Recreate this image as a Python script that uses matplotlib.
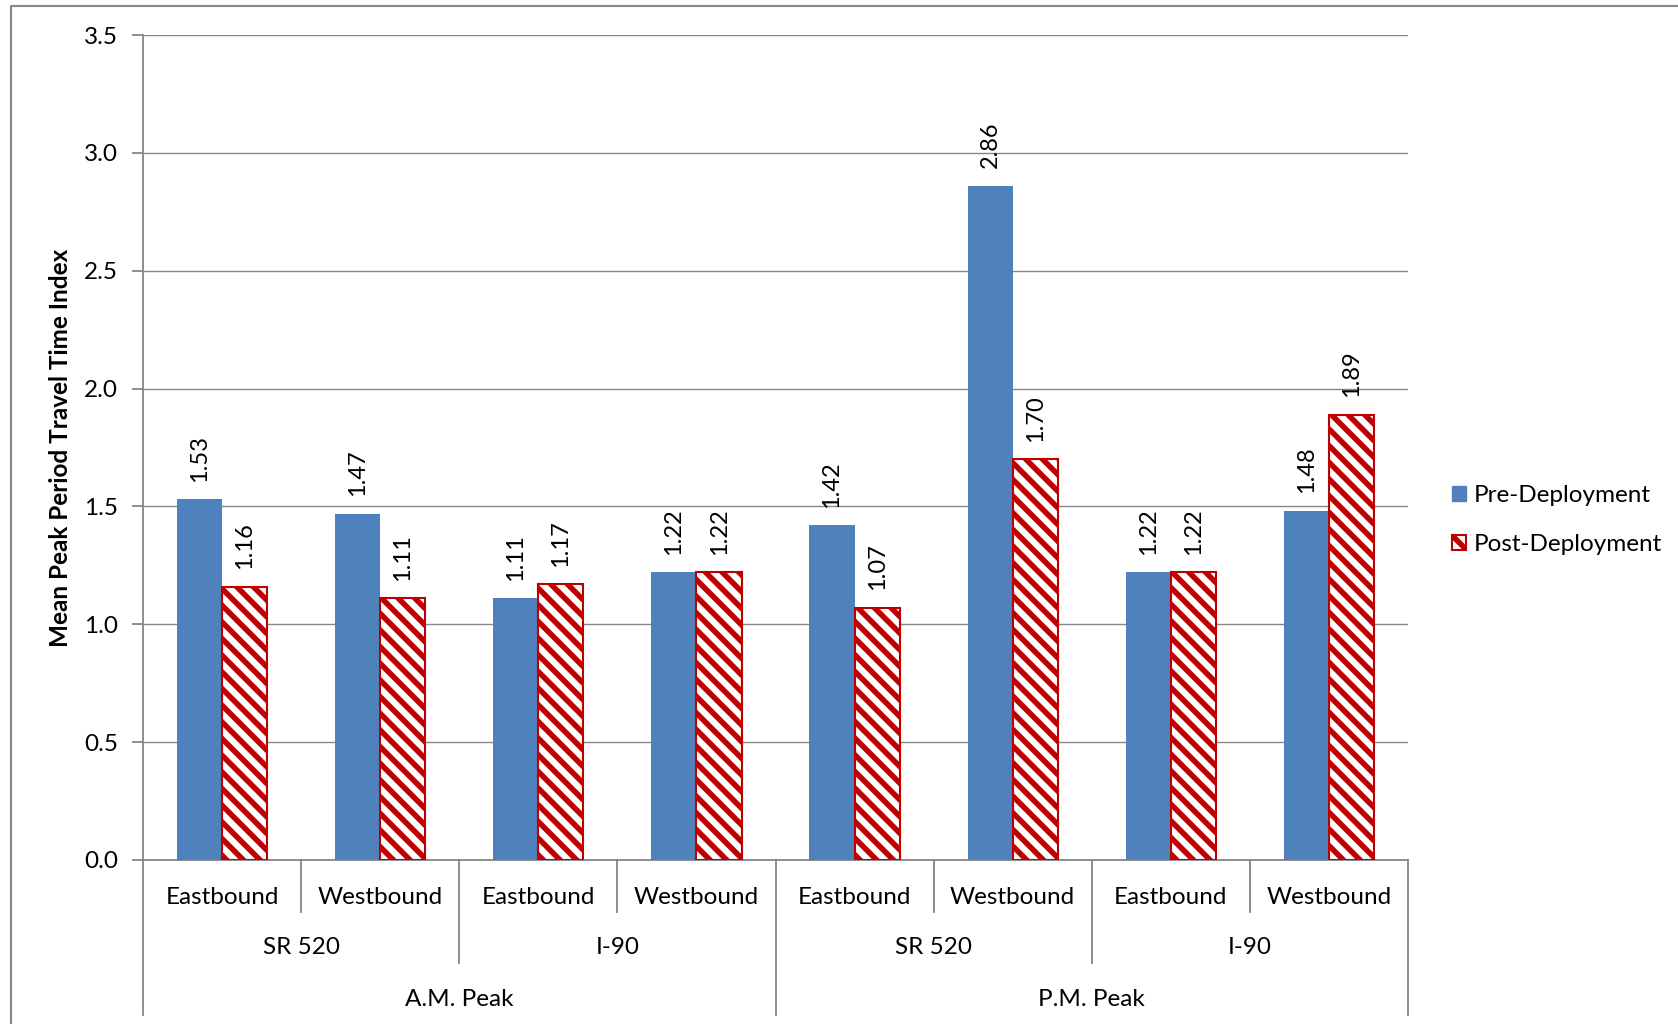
import numpy as np
import matplotlib
matplotlib.use("Agg")
import matplotlib.pyplot as plt
from matplotlib.lines import Line2D
from matplotlib.patches import Patch

plt.rcParams['font.family'] = ['Lato', 'DejaVu Sans']
plt.rcParams['hatch.linewidth'] = 4.0

# data
directions = ['Eastbound', 'Westbound'] * 4
routes = ['SR 520', 'I-90', 'SR 520', 'I-90']
peaks = ['A.M. Peak', 'P.M. Peak']
pre = [1.53, 1.47, 1.11, 1.22, 1.42, 2.86, 1.22, 1.48]
post = [1.16, 1.11, 1.17, 1.22, 1.07, 1.70, 1.22, 1.89]
yticks = [0.0, 0.5, 1.0, 1.5, 2.0, 2.5, 3.0, 3.5]

W, H = 1678, 1024
fig = plt.figure(figsize=(W / 100, H / 100), dpi=100)
ax_l, ax_r, ax_t, ax_b = 143, 1408, 35, 860
ax = fig.add_axes([ax_l / W, 1 - ax_b / H, (ax_r - ax_l) / W, (ax_b - ax_t) / H])

grey = '#868686'
blue = '#4F81BD'
red = '#C00000'
fs = 17.5

x = np.arange(len(pre))
bw = 1 / 3.5
ax.bar(x - bw / 2, pre, bw, color=blue, zorder=3)
ax.bar(x + bw / 2, post, bw, facecolor='white', edgecolor=red, hatch='\\\\',
       linewidth=1.5, zorder=3)

for xi, v in zip(x - bw / 2, pre):
    ax.text(xi, v + 0.075, f'{v:.2f}', rotation=90, ha='center', va='bottom', fontsize=17)
for xi, v in zip(x + bw / 2, post):
    ax.text(xi, v + 0.075, f'{v:.2f}', rotation=90, ha='center', va='bottom', fontsize=17)

ax.set_xlim(-0.5, 7.5)
ax.set_ylim(0, 3.5)
ax.set_yticks(yticks)
ax.set_yticklabels([f'{t:.1f}' for t in yticks])
ax.tick_params(axis='y', length=8, width=1.3, color=grey, labelsize=fs, pad=10)
ax.set_xticks([])
ax.yaxis.grid(True, color=grey, linewidth=1.0)
ax.set_axisbelow(True)
for s in ['top', 'right']:
    ax.spines[s].set_visible(False)
for s in ['left', 'bottom']:
    ax.spines[s].set_color(grey)
    ax.spines[s].set_linewidth(1.3)

ax.set_ylabel('Mean Peak Period Travel Time Index', fontsize=fs, fontweight='bold')
ax.yaxis.set_label_coords((61 - ax_l) / (ax_r - ax_l), 0.5)
ax.yaxis.label.set_va('center')

# multi-level category axis
ph = ax_b - ax_t
def yf(py):
    return (ax_b - py) / ph

tr = ax.get_xaxis_transform()
for k in range(9):
    if k % 4 == 0:
        yend = 1015
    elif k % 2 == 0:
        yend = 963
    else:
        yend = 912
    ax.plot([k - 0.5, k - 0.5], [0, yf(yend)], color=grey, lw=1.3,
            transform=tr, clip_on=False)

for i, d in enumerate(directions):
    ax.text(i, yf(897), d, transform=tr, ha='center', va='center', fontsize=fs)
for j, r in enumerate(routes):
    ax.text(2 * j + 0.5, yf(948), r, transform=tr, ha='center', va='center', fontsize=fs)
for j, p in enumerate(peaks):
    ax.text(4 * j + 1.5, yf(999), p, transform=tr, ha='center', va='center', fontsize=fs)

handles = [Patch(facecolor=blue, edgecolor=blue),
           Patch(facecolor='white', edgecolor=red, hatch='\\\\', linewidth=1.5)]
fig.legend(handles, ['Pre-Deployment', 'Post-Deployment'], loc='center left',
           bbox_to_anchor=(1430 / W, 1 - 520 / H), frameon=False, fontsize=fs,
           handlelength=0.6, handleheight=0.6, handletextpad=0.3, labelspacing=1.15)

# outer chart frame
fig.add_artist(Line2D([11 / W, 11 / W, 1.01], [-0.01, 1 - 6 / H, 1 - 6 / H],
                      color=grey, lw=1.5, transform=fig.transFigure))

fig.savefig('out.png', dpi=100)
